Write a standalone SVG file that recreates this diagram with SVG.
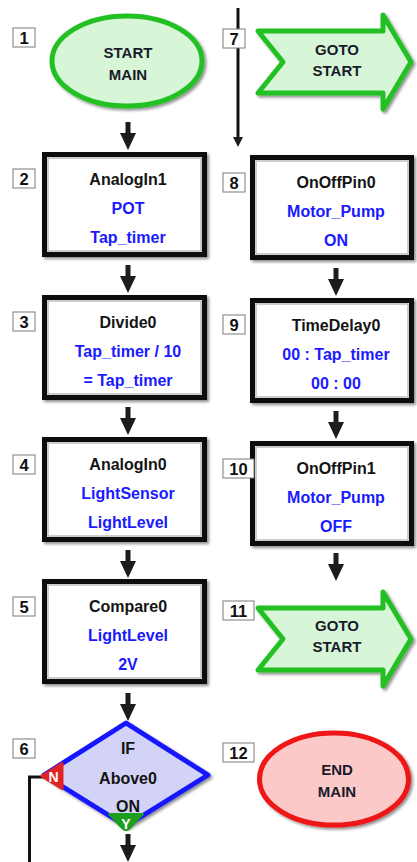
<svg xmlns="http://www.w3.org/2000/svg" width="417" height="862" viewBox="0 0 417 862">
<style>
text{font-family:"Liberation Sans",Arial,sans-serif;font-weight:bold;text-anchor:middle}
.lbl rect{fill:#fff;stroke:#7a7a7a;stroke-width:1}
.lbl text{font-size:16.5px;fill:#111}
.box{fill:#fff;stroke:#0a0a0a;stroke-width:5}
.inner{fill:none;stroke:#bdbdbd;stroke-width:1.5}
.t1{font-size:16px;fill:#141414}
.t2{font-size:16px;fill:#1a1aff}
.term{font-size:15px;fill:#1a1a2a}
.start{fill:#d7f5d7;stroke:#22c022;stroke-width:5}
.end{fill:#fcc9c9;stroke:#ee1414;stroke-width:5}
.dia{fill:#d3d3f7;stroke:#1616ff;stroke-width:5;stroke-linejoin:round}
.arr{fill:#1c1c1c}
.line{fill:none;stroke:#111;stroke-width:3}
</style>
<defs>
<filter id="sh" x="-10%" y="-10%" width="125%" height="125%">
<feGaussianBlur in="SourceAlpha" stdDeviation="1.5"/>
<feOffset dx="2" dy="2" result="o"/>
<feComponentTransfer><feFuncA type="linear" slope="0.45"/></feComponentTransfer>
<feMerge><feMergeNode/><feMergeNode in="SourceGraphic"/></feMerge>
</filter>
<path id="goto" d="M258,31 H383 V15 L411,62 L383,109 V93 H258 L283,62 Z"/>
</defs>
<rect width="417" height="862" fill="#fff"/>

<g id="connectors">
<path class="arr" d="M-2.5,0 H2.5 V11 H8 L0,28 L-8,11 H-2.5 Z" transform="translate(128,122)"/>
<path class="arr" d="M-2.5,0 H2.5 V11 H8 L0,28 L-8,11 H-2.5 Z" transform="translate(128,265)"/>
<path class="arr" d="M-2.5,0 H2.5 V11 H8 L0,28 L-8,11 H-2.5 Z" transform="translate(128,407)"/>
<path class="arr" d="M-2.5,0 H2.5 V11 H8 L0,28 L-8,11 H-2.5 Z" transform="translate(128,550)"/>
<path class="arr" d="M-2.5,0 H2.5 V11 H8 L0,28 L-8,11 H-2.5 Z" transform="translate(128,693)"/>
<path class="arr" d="M-2.5,0 H2.5 V11 H8 L0,28 L-8,11 H-2.5 Z" transform="translate(128,834)"/>
<path class="arr" d="M-2.5,0 H2.5 V11 H8 L0,28 L-8,11 H-2.5 Z" transform="translate(336,268)"/>
<path class="arr" d="M-2.5,0 H2.5 V11 H8 L0,28 L-8,11 H-2.5 Z" transform="translate(336,411)"/>
<path class="arr" d="M-2.5,0 H2.5 V11 H8 L0,28 L-8,11 H-2.5 Z" transform="translate(336,553)"/>
<path class="line" d="M238,8 V139"/>
<path class="arr" d="M233,137 H243 L238,147 Z"/>
<path class="line" d="M44,777 H29.5 V862"/>
</g>

<g id="n1">
<ellipse class="start" cx="127" cy="61" rx="75" ry="45" filter="url(#sh)"/>
<text class="term" x="128" y="58">START</text>
<text class="term" x="128" y="80">MAIN</text>
<g class="lbl"><rect x="13" y="28" width="22" height="19"/><text x="24" y="44">1</text></g>
</g>

<g id="n2">
<rect class="box" x="44.5" y="154.5" width="160" height="100" filter="url(#sh)"/>
<rect class="inner" x="48" y="158" width="153" height="93"/>
<text class="t1" x="128" y="185">AnalogIn1</text>
<text class="t2" x="128" y="214">POT</text>
<text class="t2" x="128" y="243">Tap_timer</text>
<g class="lbl"><rect x="13" y="169" width="22" height="19"/><text x="24" y="185">2</text></g>
</g>

<g id="n3">
<rect class="box" x="44.5" y="297.5" width="160" height="100" filter="url(#sh)"/>
<rect class="inner" x="48" y="301" width="153" height="93"/>
<text class="t1" x="128" y="328">Divide0</text>
<text class="t2" x="128" y="357">Tap_timer / 10</text>
<text class="t2" x="128" y="386">= Tap_timer</text>
<g class="lbl"><rect x="13" y="312" width="22" height="19"/><text x="24" y="328">3</text></g>
</g>

<g id="n4">
<rect class="box" x="44.5" y="439.5" width="160" height="100" filter="url(#sh)"/>
<rect class="inner" x="48" y="443" width="153" height="93"/>
<text class="t1" x="128" y="470">AnalogIn0</text>
<text class="t2" x="128" y="499">LightSensor</text>
<text class="t2" x="128" y="528">LightLevel</text>
<g class="lbl"><rect x="13" y="455" width="22" height="19"/><text x="24" y="471">4</text></g>
</g>

<g id="n5">
<rect class="box" x="44.5" y="581.5" width="160" height="100" filter="url(#sh)"/>
<rect class="inner" x="48" y="585" width="153" height="93"/>
<text class="t1" x="128" y="612">Compare0</text>
<text class="t2" x="128" y="641">LightLevel</text>
<text class="t2" x="128" y="670">2V</text>
<g class="lbl"><rect x="13" y="597" width="22" height="19"/><text x="24" y="613">5</text></g>
</g>

<g id="n6">
<path class="dia" d="M126,723 L208,775 L126,826 L44,775 Z" filter="url(#sh)"/>
<path d="M42,776 L62,763.5 L62,788.5 Z" fill="#e02424" stroke="#e02424" stroke-width="3" stroke-linejoin="round"/>
<text x="53.5" y="782" style="font-size:14px;fill:#fff">N</text>
<path d="M109,814 H143 L129,829 Q126,831 123,829 Z" fill="#1e9e1e" stroke="#1e9e1e" stroke-width="2" stroke-linejoin="round"/>
<text x="126" y="829" style="font-size:14px;fill:#fff">Y</text>
<text class="t1" x="128" y="754">IF</text>
<text class="t1" x="128" y="784">Above0</text>
<text class="t1" x="128" y="812">ON</text>
<g class="lbl"><rect x="13" y="739" width="22" height="19"/><text x="24" y="755">6</text></g>
</g>

<g id="n7">
<use href="#goto" class="start" style="stroke-linejoin:round" filter="url(#sh)"/>
<text class="term" x="337" y="55">GOTO</text>
<text class="term" x="337" y="76">START</text>
<g class="lbl"><rect x="223" y="29" width="22" height="19"/><text x="234" y="45">7</text></g>
</g>

<g id="n8">
<rect class="box" x="252.5" y="157.5" width="159" height="100" filter="url(#sh)"/>
<rect class="inner" x="256" y="161" width="152" height="93"/>
<text class="t1" x="336" y="188">OnOffPin0</text>
<text class="t2" x="336" y="217">Motor_Pump</text>
<text class="t2" x="336" y="246">ON</text>
<g class="lbl"><rect x="223" y="173" width="22" height="19"/><text x="234" y="189">8</text></g>
</g>

<g id="n9">
<rect class="box" x="252.5" y="300.5" width="159" height="100" filter="url(#sh)"/>
<rect class="inner" x="256" y="304" width="152" height="93"/>
<text class="t1" x="336" y="331">TimeDelay0</text>
<text class="t2" x="336" y="360">00 : Tap_timer</text>
<text class="t2" x="336" y="389">00 : 00</text>
<g class="lbl"><rect x="223" y="315" width="22" height="19"/><text x="234" y="331">9</text></g>
</g>

<g id="n10">
<rect class="box" x="252.5" y="443.5" width="159" height="100" filter="url(#sh)"/>
<rect class="inner" x="256" y="447" width="152" height="93"/>
<text class="t1" x="336" y="474">OnOffPin1</text>
<text class="t2" x="336" y="503">Motor_Pump</text>
<text class="t2" x="336" y="532">OFF</text>
<g class="lbl"><rect x="223" y="459" width="31" height="19"/><text x="238.5" y="475">10</text></g>
</g>

<g id="n11">
<use href="#goto" class="start" style="stroke-linejoin:round" transform="translate(0,577)" filter="url(#sh)"/>
<text class="term" x="337" y="631">GOTO</text>
<text class="term" x="337" y="652">START</text>
<g class="lbl"><rect x="223" y="601" width="31" height="19"/><text x="238.5" y="617">11</text></g>
</g>

<g id="n12">
<ellipse class="end" cx="334" cy="779" rx="74.5" ry="46" filter="url(#sh)"/>
<text class="term" x="337" y="775">END</text>
<text class="term" x="337" y="797">MAIN</text>
<g class="lbl"><rect x="223" y="743" width="31" height="19"/><text x="238.5" y="759">12</text></g>
</g>
</svg>
